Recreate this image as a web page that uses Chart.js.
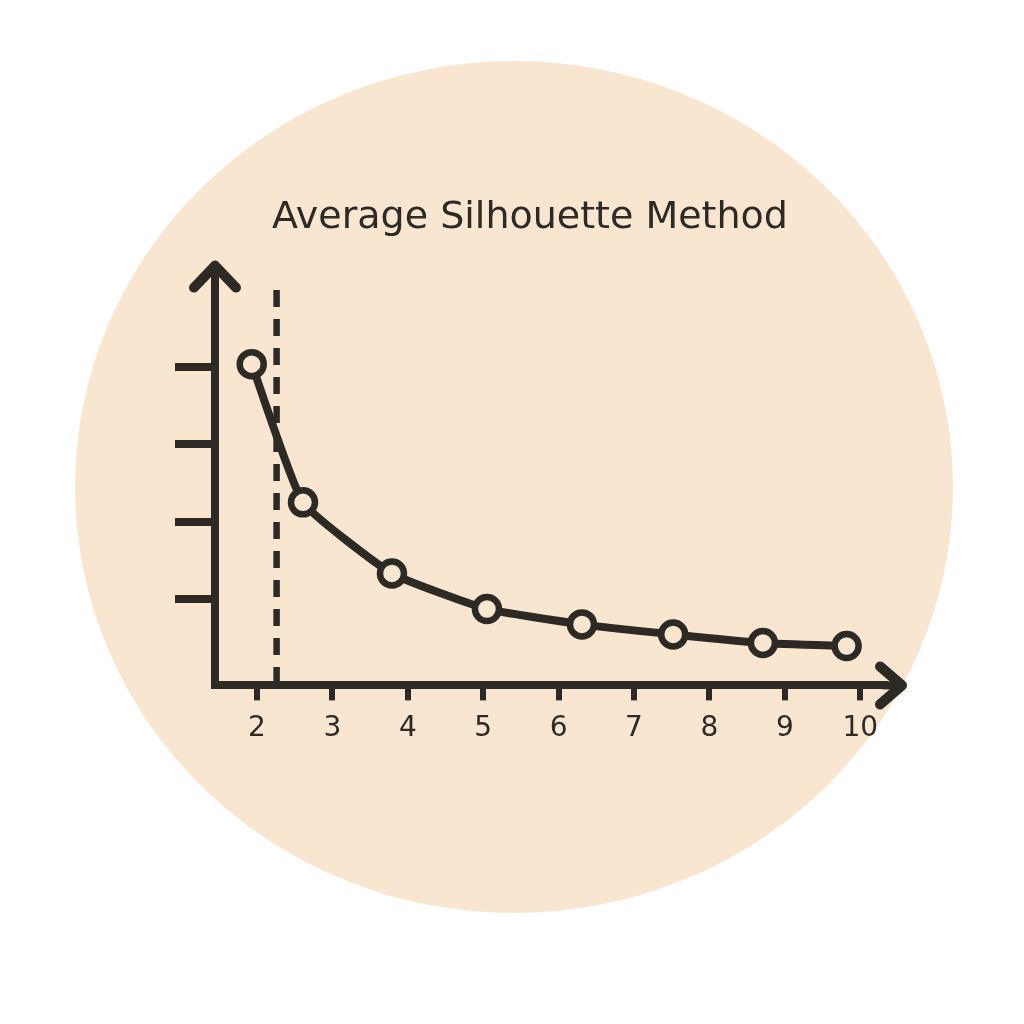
<!DOCTYPE html>
<html>
<head>
<meta charset="utf-8">
<title>Average Silhouette Method</title>
<script src="https://cdn.jsdelivr.net/npm/chart.js@4.4.1/dist/chart.umd.min.js"></script>
<style>
  html, body { margin: 0; padding: 0; background: #ffffff; }
  canvas { display: block; }
</style>
</head>
<body>
<canvas id="silhouette-chart" width="1024" height="1024"></canvas>
<script>
// number of clusters k and the score
const kValues = [1.93, 2.61, 3.79, 5.05, 6.31, 7.52, 8.71, 9.82];
const silhouette = [4.04, 2.25, 1.33, 0.87, 0.67, 0.54, 0.43, 0.39];
const xTicks = [2, 3, 4, 5, 6, 7, 8, 9, 10];
const yTicks = [1, 2, 3, 4];
// dashed marker for the chosen k
const optimalK = [2.26, 2.26];
const optimalY = [5.0, -0.12];

const ink = "#2d2925";
const cream = "#f9e6d0";

// beige disc behind everything, arrowheads on the axes
const backdrop = {
  id: "backdrop",
  beforeDraw(chart) {
    const ctx = chart.ctx;
    ctx.save();
    ctx.fillStyle = cream;
    ctx.beginPath();
    ctx.ellipse(514, 487, 439, 426, 0, 0, Math.PI * 2);
    ctx.fill();
    ctx.restore();
  },
  afterDraw(chart) {
    const { ctx, chartArea } = chart;
    const { left, right, top, bottom } = chartArea;
    ctx.save();
    ctx.strokeStyle = ink;
    ctx.lineWidth = 10;
    ctx.lineCap = "round";
    ctx.lineJoin = "round";
    // y arrow
    ctx.beginPath();
    ctx.moveTo(left - 21, top + 20);
    ctx.lineTo(left, top - 2);
    ctx.lineTo(left + 21, top + 20);
    ctx.stroke();
    // x axis runs on past the chart area to the arrow tip
    ctx.lineWidth = 8;
    ctx.lineCap = "butt";
    ctx.beginPath();
    ctx.moveTo(right - 2, bottom);
    ctx.lineTo(right + 16, bottom);
    ctx.stroke();
    ctx.lineWidth = 10;
    ctx.lineCap = "round";
    ctx.beginPath();
    ctx.moveTo(right - 5, bottom - 19);
    ctx.lineTo(right + 17, bottom);
    ctx.lineTo(right - 5, bottom + 19);
    ctx.stroke();
    ctx.restore();
  }
};

new Chart(document.getElementById("silhouette-chart"), {
  type: "line",
  data: {
    datasets: [
      {
        data: kValues.map((k, i) => ({ x: k, y: silhouette[i] })),
        borderColor: ink,
        borderWidth: 8,
        borderCapStyle: "round",
        borderJoinStyle: "round",
        tension: 0.14,
        pointRadius: 12,
        pointBorderWidth: 6.5,
        pointBorderColor: ink,
        pointBackgroundColor: cream,
        clip: false,
      },
      {
        data: optimalK.map((k, i) => ({ x: k, y: optimalY[i] })),
        borderColor: ink,
        borderWidth: 6.5,
        borderDash: [17, 12],
        pointRadius: 0,
        clip: false,
      },
    ],
  },
  options: {
    responsive: false,
    animation: false,
    devicePixelRatio: 1,
    layout: {
      padding: { left: 175, right: 139, top: 195, bottom: 266 },
    },
    plugins: {
      legend: { display: false },
      tooltip: { enabled: false },
      title: {
        display: true,
        text: "Average Silhouette Method",
        color: ink,
        font: { family: "DejaVu Sans", size: 38, weight: "normal", lineHeight: 1.2 },
        padding: { top: 0, bottom: 27 },
      },
    },
    scales: {
      x: {
        type: "linear",
        min: 1.443,
        max: 10.329,
        afterBuildTicks(scale) {
          scale.ticks = xTicks.map((v) => ({ value: v }));
        },
        grid: {
          drawOnChartArea: false,
          tickLength: 15,
          lineWidth: 6,
          color: ink,
        },
        border: { display: true, color: ink, width: 8 },
        ticks: {
          color: ink,
          padding: 12,
          font: { family: "DejaVu Sans", size: 28 },
        },
      },
      y: {
        type: "linear",
        min: -0.12,
        max: 5.29,
        afterBuildTicks(scale) {
          scale.ticks = yTicks.map((v) => ({ value: v }));
        },
        grid: {
          drawOnChartArea: false,
          tickLength: 40,
          lineWidth: 8,
          color: ink,
        },
        border: { display: true, color: ink, width: 8 },
        ticks: { display: false },
      },
    },
  },
  plugins: [backdrop],
});
</script>
</body>
</html>
